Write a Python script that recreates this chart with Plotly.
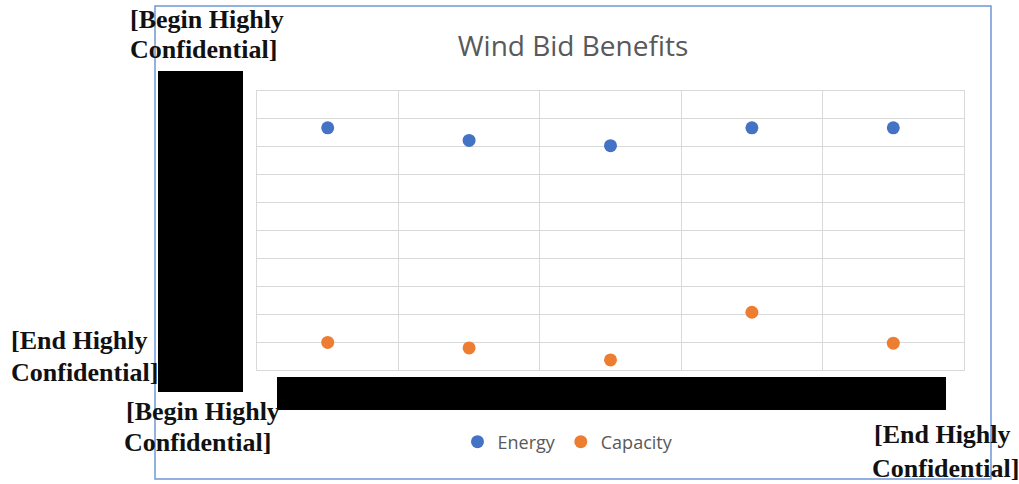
import plotly.graph_objects as go

W, H = 1019, 484

# Bid positions along the x axis (category labels are redacted)
bids = [1, 2, 3, 4, 5]
energy = [8.68, 8.23, 8.04, 8.68, 8.68]
capacity = [0.99, 0.79, 0.36, 2.07, 0.96]

BLUE = "#4472C4"
ORANGE = "#ED7D31"
GRID = "#d9d9d9"
TEXT_GRAY = "#595959"


def px_x(x):
    return x / W


def px_y(y):
    return 1 - y / H


fig = go.Figure()
fig.add_trace(go.Scatter(x=bids, y=energy, mode="markers", name="Energy",
                         marker=dict(color=BLUE, size=13)))
fig.add_trace(go.Scatter(x=bids, y=capacity, mode="markers", name="Capacity",
                         marker=dict(color=ORANGE, size=13)))

axis_common = dict(showgrid=True, gridcolor=GRID, gridwidth=1, zeroline=False,
                   showline=True, linecolor=GRID, linewidth=1, mirror=True,
                   showticklabels=False, ticks="", fixedrange=True)

fig.update_layout(
    width=W, height=H,
    margin=dict(l=0, r=0, t=0, b=0),
    paper_bgcolor="white", plot_bgcolor="white",
    xaxis=dict(domain=[px_x(257), px_x(964)], range=[0.5, 5.5],
               tick0=0.5, dtick=1, **axis_common),
    yaxis=dict(domain=[px_y(370), px_y(91)], range=[0, 10],
               tick0=0, dtick=1, **axis_common),
    title=dict(text="Wind Bid Benefits", x=px_x(573), xanchor="center",
               y=px_y(46), yanchor="middle",
               font=dict(family="Open Sans", size=28, color=TEXT_GRAY)),
    showlegend=True,
    legend=dict(orientation="h", x=px_x(568), xanchor="center",
                y=px_y(442), yanchor="middle",
                font=dict(family="Open Sans", size=18, color=TEXT_GRAY),
                bgcolor="rgba(0,0,0,0)"),
)

# Chart frame
fig.add_shape(type="rect", xref="paper", yref="paper",
              x0=px_x(155), x1=px_x(991), y0=px_y(479), y1=px_y(6),
              line=dict(color="#6f96d6", width=1.5), fillcolor="rgba(0,0,0,0)",
              layer="below")

# Redaction boxes over the axis labels
fig.add_shape(type="rect", xref="paper", yref="paper",
              x0=px_x(158), x1=px_x(243), y0=px_y(392), y1=px_y(71),
              line=dict(width=0), fillcolor="black", layer="above")
fig.add_shape(type="rect", xref="paper", yref="paper",
              x0=px_x(277), x1=px_x(946), y0=px_y(410), y1=px_y(377),
              line=dict(width=0), fillcolor="black", layer="above")

# Confidentiality markers
conf_font = dict(family="Liberation Serif", size=26, color="#111111")
conf_lines = [
    ("<b>[Begin Highly</b>", 129, 19),
    ("<b>Confidential]</b>", 129, 49),
    ("<b>[End Highly</b>", 10, 340),
    ("<b>Confidential]</b>", 10, 372),
    ("<b>[Begin Highly</b>", 125, 411),
    ("<b>Confidential]</b>", 123, 442),
    ("<b>[End Highly</b>", 873, 434),
    ("<b>Confidential]</b>", 871, 468),
]
for text, x, y in conf_lines:
    fig.add_annotation(text=text, xref="paper", yref="paper",
                       x=px_x(x), y=px_y(y), xanchor="left", yanchor="middle",
                       showarrow=False, font=conf_font, borderpad=0)

fig.write_html("out.html")
